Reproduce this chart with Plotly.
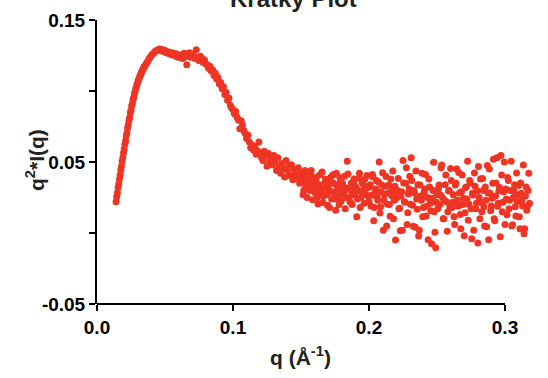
import plotly.graph_objects as go

# ---- data ----
q_rise = [0.0140, 0.0145, 0.0150, 0.0155, 0.0160, 0.0165, 0.0170, 0.0175, 0.0180, 0.0185,
          0.0190, 0.0195, 0.0200, 0.0205, 0.0210, 0.0215, 0.0220, 0.0225, 0.0230, 0.0235,
          0.0240, 0.0245, 0.0250, 0.0255, 0.0260, 0.0265, 0.0270, 0.0275, 0.0280, 0.0285,
          0.0290, 0.0295, 0.0300, 0.0305, 0.0310, 0.0315, 0.0320, 0.0325, 0.0330, 0.0335,
          0.0340, 0.0345, 0.0350]
i_rise = [0.0220, 0.0255, 0.0282, 0.0318, 0.0345, 0.0380, 0.0408, 0.0444, 0.0470, 0.0506,
          0.0531, 0.0566, 0.0591, 0.0625, 0.0648, 0.0683, 0.0705, 0.0740, 0.0760, 0.0793,
          0.0813, 0.0846, 0.0864, 0.0895, 0.0911, 0.0940, 0.0955, 0.0981, 0.0994, 0.1018,
          0.1029, 0.1051, 0.1060, 0.1080, 0.1087, 0.1105, 0.1111, 0.1128, 0.1133, 0.1149,
          0.1153, 0.1169, 0.1173]

q_peak = [0.036, 0.037, 0.038, 0.039, 0.040, 0.041, 0.042, 0.043, 0.044, 0.045,
          0.046, 0.047, 0.048, 0.049, 0.050, 0.051, 0.052, 0.053, 0.054, 0.055,
          0.056, 0.057, 0.058, 0.059, 0.060, 0.061, 0.062, 0.063, 0.064, 0.065,
          0.066, 0.067, 0.068, 0.069, 0.070, 0.071, 0.072, 0.073, 0.074, 0.075,
          0.076, 0.077, 0.078, 0.079, 0.080]
i_peak = [0.1190, 0.1205, 0.1222, 0.1238, 0.1250, 0.1262, 0.1270, 0.1281, 0.1285, 0.1290,
          0.1296, 0.1283, 0.1292, 0.1278, 0.1285, 0.1270, 0.1276, 0.1262, 0.1272, 0.1255,
          0.1268, 0.1250, 0.1262, 0.1240, 0.1255, 0.1236, 0.1250, 0.1228, 0.1265, 0.1242,
          0.1185, 0.1252, 0.1270, 0.1238, 0.1260, 0.1247, 0.1228, 0.1290, 0.1236, 0.1215,
          0.1245, 0.1228, 0.1200, 0.1218, 0.1190]

q_fall = [0.081, 0.082, 0.083, 0.084, 0.085, 0.086, 0.087, 0.088, 0.089, 0.090,
          0.091, 0.092, 0.093, 0.094, 0.095, 0.096, 0.097, 0.098, 0.099, 0.100,
          0.101, 0.102, 0.103, 0.104, 0.105, 0.106, 0.107, 0.108, 0.109, 0.110,
          0.111, 0.112, 0.113, 0.114, 0.115, 0.116, 0.117, 0.118, 0.119, 0.120,
          0.121, 0.122, 0.123, 0.124, 0.125, 0.126, 0.127, 0.128, 0.129, 0.130]
i_fall = [0.1185, 0.1160, 0.1175, 0.1140, 0.1150, 0.1110, 0.1125, 0.1085, 0.1095, 0.1050,
          0.1060, 0.1015, 0.1030, 0.0975, 0.0990, 0.0935, 0.0950, 0.0900, 0.0880, 0.0870,
          0.0840, 0.0855, 0.0815, 0.0795, 0.0735, 0.0790, 0.0760, 0.0720, 0.0700, 0.0665,
          0.0690, 0.0640, 0.0600, 0.0620, 0.0585, 0.0610, 0.0555, 0.0580, 0.0640, 0.0560,
          0.0530, 0.0510, 0.0575, 0.0540, 0.0470, 0.0560, 0.0500, 0.0525, 0.0480, 0.0545]

q_tail = [0.131, 0.132, 0.133, 0.134, 0.135, 0.136, 0.137, 0.138, 0.139, 0.140,
          0.141, 0.142, 0.143, 0.144, 0.145, 0.146, 0.147, 0.148, 0.149, 0.150,
          0.151, 0.152, 0.153, 0.154, 0.155, 0.156, 0.157, 0.158, 0.159, 0.160,
          0.161, 0.162, 0.163, 0.164, 0.165, 0.166, 0.167, 0.168, 0.169, 0.170,
          0.171, 0.172, 0.173, 0.174, 0.175, 0.176, 0.177, 0.178, 0.179, 0.180,
          0.181, 0.182, 0.183, 0.184, 0.185, 0.186, 0.187, 0.188, 0.189, 0.190,
          0.191, 0.192, 0.193, 0.194, 0.195, 0.196, 0.197, 0.198, 0.199, 0.200,
          0.201, 0.202, 0.203, 0.204, 0.205, 0.206, 0.207, 0.208, 0.209, 0.210,
          0.211, 0.212, 0.213, 0.214, 0.215, 0.216, 0.217, 0.218, 0.219, 0.220,
          0.221, 0.222, 0.223, 0.224, 0.225, 0.226, 0.227, 0.228, 0.229, 0.230,
          0.231, 0.232, 0.233, 0.234, 0.235, 0.236, 0.237, 0.238, 0.239, 0.240,
          0.241, 0.242, 0.243, 0.244, 0.245, 0.246, 0.247, 0.248, 0.249, 0.250,
          0.251, 0.252, 0.253, 0.254, 0.255, 0.256, 0.257, 0.258, 0.259, 0.260,
          0.261, 0.262, 0.263, 0.264, 0.265, 0.266, 0.267, 0.268, 0.269, 0.270,
          0.271, 0.272, 0.273, 0.274, 0.275, 0.276, 0.277, 0.278, 0.279, 0.280,
          0.281, 0.282, 0.283, 0.284, 0.285, 0.286, 0.287, 0.288, 0.289, 0.290,
          0.291, 0.292, 0.293, 0.294, 0.295, 0.296, 0.297, 0.298, 0.299, 0.300,
          0.301, 0.302, 0.303, 0.304, 0.305, 0.306, 0.307, 0.308, 0.309, 0.310,
          0.311, 0.312, 0.313, 0.314, 0.315, 0.316, 0.317, 0.318]
i_tail = [0.0500, 0.0440, 0.0530, 0.0465, 0.0420, 0.0490, 0.0455, 0.0395, 0.0510, 0.0440,
          0.0470, 0.0405, 0.0480, 0.0375, 0.0445, 0.0410, 0.0390, 0.0460, 0.0350, 0.0425,
          0.0385, 0.0300, 0.0440, 0.0365, 0.0400, 0.0320, 0.0410, 0.0345, 0.0380, 0.0285,
          0.0365, 0.0250, 0.0330, 0.0410, 0.0300, 0.0215, 0.0345, 0.0380, 0.0270, 0.0330,
          0.0180, 0.0395, 0.0290, 0.0350, 0.0240, 0.0420, 0.0310, 0.0200, 0.0365, 0.0275,
          0.0330, 0.0400, 0.0250, 0.0505, 0.0310, 0.0220, 0.0350, 0.0290, 0.0380, 0.0330,
          0.0115, 0.0300, 0.0420, 0.0250, 0.0355, 0.0300, 0.0380, 0.0270, 0.0330, 0.0220,
          0.0340, 0.0265, 0.0395, 0.0180, 0.0310, 0.0255, 0.0360, 0.0140, 0.0290, 0.0425,
          0.0230, 0.0330, 0.0050, 0.0280, 0.0200, 0.0380, 0.0260, 0.0100, 0.0330, 0.0245,
          0.0300, 0.0170, 0.0016, 0.0290, 0.0510, 0.0220, 0.0350, 0.0060, 0.0275, 0.0400,
          0.0530, 0.0195, 0.0300, 0.0040, 0.0240, 0.0340, 0.0020, 0.0260, 0.0420, 0.0180,
          0.0310, 0.0120, 0.0250, 0.0380, 0.0210, -0.0076, 0.0300, 0.0150, -0.0104, 0.0270,
          0.0310, 0.0200, 0.0460, 0.0250, 0.0100, 0.0340, 0.0220, 0.0150, 0.0300, 0.0455,
          0.0180, 0.0270, 0.0060, 0.0350, 0.0230, 0.0426, 0.0130, 0.0290, 0.0200, -0.0020,
          0.0320, 0.0240, 0.0090, 0.0370, 0.0170, 0.0280, 0.0020, 0.0330, 0.0210, -0.0070,
          0.0250, 0.0380, 0.0150, 0.0300, 0.0050, 0.0230, 0.0475, -0.0048, 0.0280, 0.0190,
          0.0350, 0.0100, 0.0260, 0.0530, 0.0210, 0.0320, 0.0546, 0.0150, 0.0290, 0.0060,
          0.0240, 0.0390, 0.0170, 0.0300, 0.0050, 0.0250, 0.0340, 0.0120, 0.0220, 0.0334,
          0.0030, 0.0280, 0.0190, -0.0005, 0.0260, 0.0160, 0.0300, 0.0210]

q_tail2 = [0.1505, 0.1515, 0.1525, 0.1535, 0.1545, 0.1555, 0.1565, 0.1575, 0.1585, 0.1595,
           0.1605, 0.1615, 0.1625, 0.1635, 0.1645, 0.1655, 0.1665, 0.1675, 0.1685, 0.1695,
           0.1705, 0.1715, 0.1725, 0.1735, 0.1745, 0.1755, 0.1765, 0.1775, 0.1785, 0.1795,
           0.1805, 0.1815, 0.1825, 0.1835, 0.1845, 0.1855, 0.1865, 0.1875, 0.1885, 0.1895,
           0.1905, 0.1915, 0.1925, 0.1935, 0.1945, 0.1955, 0.1965, 0.1975, 0.1985, 0.1995,
           0.2005, 0.2015, 0.2025, 0.2035, 0.2045, 0.2055, 0.2065, 0.2075, 0.2085, 0.2095,
           0.2105, 0.2115, 0.2125, 0.2135, 0.2145, 0.2155, 0.2165, 0.2175, 0.2185, 0.2195,
           0.2205, 0.2215, 0.2225, 0.2235, 0.2245, 0.2255, 0.2265, 0.2275, 0.2285, 0.2295,
           0.2305, 0.2315, 0.2325, 0.2335, 0.2345, 0.2355, 0.2365, 0.2375, 0.2385, 0.2395,
           0.2405, 0.2415, 0.2425, 0.2435, 0.2445, 0.2455, 0.2465, 0.2475, 0.2485, 0.2495,
           0.2505, 0.2515, 0.2525, 0.2535, 0.2545, 0.2555, 0.2565, 0.2575, 0.2585, 0.2595,
           0.2605, 0.2615, 0.2625, 0.2635, 0.2645, 0.2655, 0.2665, 0.2675, 0.2685, 0.2695,
           0.2705, 0.2715, 0.2725, 0.2735, 0.2745, 0.2755, 0.2765, 0.2775, 0.2785, 0.2795,
           0.2805, 0.2815, 0.2825, 0.2835, 0.2845, 0.2855, 0.2865, 0.2875, 0.2885, 0.2895,
           0.2905, 0.2915, 0.2925, 0.2935, 0.2945, 0.2955, 0.2965, 0.2975, 0.2985, 0.2995,
           0.3005, 0.3015, 0.3025, 0.3035, 0.3045, 0.3055, 0.3065, 0.3075, 0.3085, 0.3095,
           0.3105, 0.3115, 0.3125, 0.3135, 0.3145, 0.3155, 0.3165, 0.3175]
i_tail2 = [0.0360, 0.0270, 0.0415, 0.0330, 0.0250, 0.0390, 0.0300, 0.0440, 0.0235, 0.0350,
           0.0310, 0.0395, 0.0205, 0.0340, 0.0285, 0.0430, 0.0260, 0.0320, 0.0370, 0.0195,
           0.0300, 0.0350, 0.0240, 0.0410, 0.0280, 0.0160, 0.0335, 0.0265, 0.0390, 0.0225,
           0.0350, 0.0290, 0.0170, 0.0315, 0.0415, 0.0250, 0.0300, 0.0200, 0.0360, 0.0270,
           0.0320, 0.0240, 0.0385, 0.0180, 0.0290, 0.0345, 0.0210, 0.0310, 0.0405, 0.0255,
           0.0324, 0.0188, 0.0412, 0.0086, 0.0286, 0.0370, 0.0230, 0.0500, 0.0184, 0.0338,
           0.0020, 0.0272, 0.0398, 0.0202, 0.0338, 0.0118, 0.0300, 0.0436, 0.0230, -0.0050,
           0.0286, 0.0384, 0.0174, 0.0258, 0.0020, 0.0352, 0.0216, 0.0460, 0.0142, 0.0310,
           0.0202, 0.0370, 0.0048, 0.0282, 0.0436, 0.0167, -0.0022, 0.0338, 0.0230, 0.0114,
           0.0286, 0.0412, 0.0188, -0.0048, 0.0324, 0.0156, 0.0244, 0.0498, 0.0006, 0.0216,
           0.0170, 0.0338, 0.0268, 0.0478, 0.0100, 0.0230, 0.0408, 0.0012, 0.0296, 0.0184,
           0.0370, 0.0216, 0.0114, 0.0338, 0.0450, 0.0188, 0.0282, 0.0030, 0.0408, 0.0244,
           0.0142, 0.0324, 0.0506, 0.0202, 0.0352, -0.0040, 0.0268, 0.0422, 0.0170, 0.0296,
           0.0468, 0.0100, 0.0216, 0.0384, 0.0184, 0.0324, 0.0044, 0.0282, 0.0450, 0.0156,
           0.0244, 0.0520, 0.0086, 0.0352, 0.0188, 0.0296, -0.0026, 0.0408, 0.0216, 0.0500,
           0.0310, 0.0128, 0.0370, 0.0230, 0.0506, 0.0058, 0.0296, 0.0184, 0.0422, 0.0268,
           0.0114, 0.0352, 0.0230, 0.0478, 0.0030, 0.0324, 0.0188, 0.0420]

x_ticks = [0.0, 0.1, 0.2, 0.3]
x_tick_labels = ["0.0", "0.1", "0.2", "0.3"]
y_ticks = [-0.05, 0.05, 0.15]
y_tick_labels = ["-0.05", "0.05", "0.15"]
x_axis_end = 0.3

q = q_rise + q_peak + q_fall + q_tail + q_tail2
intensity = i_rise + i_peak + i_fall + i_tail + i_tail2

RED = "#EE3524"
FONT = "Liberation Sans, Arial, Helvetica, sans-serif"

fig = go.Figure()
fig.add_trace(go.Scatter(
    x=q, y=intensity, mode="markers",
    marker=dict(color=RED, size=7, line=dict(width=0)),
    cliponaxis=False, showlegend=False,
))

tick_common = dict(
    ticks="outside", ticklen=6, tickwidth=2, tickcolor="black",
    showgrid=False, zeroline=False,
    tickfont=dict(family=FONT, size=19, color="black", weight="bold"),
)

# plot area extends a bit past q = 0.3 so the last points (beyond the axis end) stay visible
fig.update_layout(
    width=548, height=378,
    margin=dict(l=97, r=9, t=20, b=74),
    paper_bgcolor="white", plot_bgcolor="white",
    xaxis=dict(range=[0, 0.325], tickmode="array", tickvals=x_ticks,
               ticktext=x_tick_labels, showline=False, **tick_common),
    yaxis=dict(range=[-0.05, 0.15], tickmode="array", tickvals=y_ticks,
               ticktext=y_tick_labels, showline=True, linecolor="black", linewidth=2,
               minor=dict(tick0=0, dtick=0.05, ticks="outside", ticklen=6,
                          tickwidth=2, tickcolor="black", showgrid=False),
               **tick_common),
    shapes=[dict(type="line", xref="x", yref="paper", x0=0, x1=x_axis_end, y0=0, y1=0,
                 line=dict(color="black", width=2), layer="above")],
    annotations=[
        dict(text="Kratky Plot", xref="paper", yref="paper", x=0.4457, y=1.074,
             xanchor="center", yanchor="middle", showarrow=False,
             font=dict(family=FONT, size=24, color="#222222", weight="bold")),
        dict(text="q (Å<sup>-1</sup>)", xref="paper", yref="paper", x=0.4615, y=-0.183,
             xanchor="center", yanchor="middle", showarrow=False,
             font=dict(family=FONT, size=21, color="#222222", weight="bold")),
        dict(text="q<sup>2</sup>*I(q)", xref="paper", yref="paper", x=-0.1403, y=0.507,
             xanchor="center", yanchor="middle", showarrow=False, textangle=-90,
             font=dict(family=FONT, size=21, color="#222222", weight="bold")),
    ],
)

fig.write_html("out.html")
